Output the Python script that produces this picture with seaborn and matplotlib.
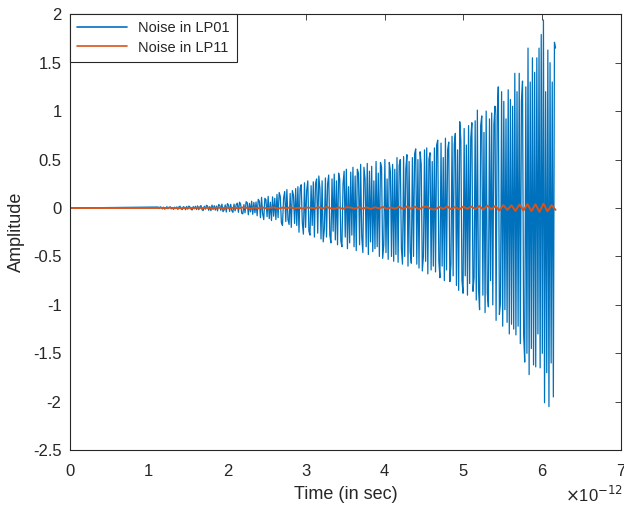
import numpy as np
import matplotlib
matplotlib.use("Agg")
import matplotlib.pyplot as plt
import seaborn as sb
from matplotlib.ticker import FixedLocator, FixedFormatter

t_start, t_end = 1.12e-12, 6.17e-12

lp01 = [
    0.01, -0.006, 0.012, 0.004, -0.01, 0.008, -0.012, -0.004, 0.014, -0.008, 0.006, 0.012, -0.01, 0.005, -0.014, 0.009, -0.006, 0.011,
    -0.015, 0.012, 0.018, -0.01, -0.016, 0.014, 0.006, -0.018, 0.016, -0.012, 0.02, 0.01, -0.014, -0.02, 0.015, -0.008, 0.018, -0.016,
    0.022, -0.018, 0.012, 0.025, -0.02, -0.026, 0.018, -0.012, 0.028, 0.02, -0.024, 0.015, -0.028, 0.03, -0.016, 0.024, -0.022, 0.02,
    -0.03, 0.035, 0.028, -0.025, 0.04, -0.038, -0.02, 0.032, -0.042, 0.045, 0.03, -0.035, 0.038, -0.028, -0.045, 0.04, -0.03, 0.036,
    0.05, -0.045, 0.06, 0.04, -0.055, -0.06, 0.035, -0.05, 0.065, 0.055, -0.07, 0.048, -0.04, 0.07, -0.065, 0.058, -0.05, 0.062,
    -0.08, 0.09, 0.07, -0.1, 0.11, -0.06, -0.12, 0.1, 0.085, -0.09, 0.12, -0.11, 0.06, -0.13, 0.115, -0.085, 0.1, -0.12,
    0.14, -0.1, 0.16, 0.12, -0.15, -0.18, 0.1, 0.17, -0.14, 0.19, -0.12, -0.17, 0.15, -0.2, 0.18, 0.13, -0.16, 0.2,
    -0.18, 0.22, -0.25, 0.2, 0.24, -0.15, -0.27, 0.26, -0.2, 0.18, 0.28, -0.24, -0.28, 0.23, -0.18, 0.27, -0.3, 0.25,
    0.3, -0.26, 0.33, 0.2, -0.32, 0.28, -0.35, -0.22, 0.31, -0.3, 0.25, 0.34, -0.28, -0.36, 0.3, -0.24, 0.35, -0.33,
    0.28, -0.38, 0.36, 0.3, -0.34, -0.4, 0.25, 0.38, -0.3, 0.4, -0.42, 0.22, -0.36, 0.37, -0.28, 0.42, -0.4, 0.33,
    -0.44, 0.4, 0.36, -0.38, 0.45, -0.3, -0.46, 0.42, 0.3, -0.4, 0.46, -0.48, 0.38, -0.35, 0.43, -0.45, 0.28, -0.42,
    0.48, -0.4, 0.36, -0.5, 0.47, 0.42, -0.52, -0.38, 0.5, -0.46, 0.3, -0.53, 0.47, 0.38, -0.5, 0.45, -0.55, 0.4,
    -0.48, 0.52, -0.56, 0.44, 0.5, -0.42, -0.58, 0.53, -0.5, 0.4, 0.55, -0.6, 0.48, -0.45, -0.57, 0.52, -0.5, 0.56,
    0.61, -0.58, 0.5, -0.62, 0.58, 0.45, -0.65, -0.5, 0.6, -0.55, 0.62, -0.68, 0.5, 0.57, -0.64, 0.48, -0.6, 0.62,
    -0.66, 0.65, 0.7, -0.55, -0.72, 0.67, -0.6, 0.52, -0.75, 0.72, -0.64, 0.6, 0.68, -0.76, -0.58, 0.74, -0.7, 0.66,
    0.77, -0.8, 0.6, -0.85, 0.89, 0.7, -0.75, -0.88, 0.82, -0.7, 0.65, -0.9, 0.85, -0.78, 0.72, 0.88, -0.86, -0.72,
    0.9, -0.95, 1.01, -0.82, -1.05, 0.85, 0.95, -0.9, 0.78, -1.08, 1.0, -0.88, -1.02, 0.92, -0.75, 0.98, -1.0, 0.86,
    1.05, -1.16, 0.95, 1.25, -1.1, -0.98, 1.2, -1.22, 1.1, -1.05, 0.92, -1.18, 1.22, -1.3, 1.12, -1.2, 1.05, -1.25,
    1.39, -1.31, 1.2, -1.22, 1.39, -1.4, 1.1, 1.31, -1.3, -1.59, 1.25, -1.5, 1.65, -1.72, 1.3, -1.45, 1.55, -1.62,
    1.4, -1.64, 1.55, -1.3, 1.65, -1.65, 1.79, -1.5, 1.94, -2.01, 1.2, -1.7, 1.63, -2.05, 1.5, -1.6, 1.3, -1.95, 1.71, 1.65,
]

lp11 = [
    0.0, 0.002, -0.001, 0.003, -0.002, 0.001, -0.003, 0.002, 0.0, -0.002, 0.003, -0.001, 0.002, -0.003, 0.001, 0.003, -0.002, 0.002, -0.001, 0.003,
    -0.004, 0.005, 0.002, -0.006, 0.004, -0.003, 0.006, -0.005, 0.003, 0.005, -0.006, 0.004, -0.002, 0.006, -0.005, 0.003, -0.006, 0.005, 0.002, -0.004,
    0.008, -0.006, 0.01, -0.004, -0.009, 0.007, -0.01, 0.009, 0.004, -0.008, 0.01, -0.007, 0.006, -0.01, 0.008, -0.005, 0.011, -0.009, 0.006, -0.008,
    0.012, -0.01, 0.015, -0.008, 0.013, -0.014, 0.009, 0.015, -0.012, -0.015, 0.011, -0.01, 0.016, -0.013, 0.01, -0.016, 0.014, -0.009, 0.015, -0.012,
    0.02, -0.018, 0.025, -0.015, 0.022, -0.026, 0.03, -0.02, 0.028, -0.03, 0.035, -0.025, 0.04, -0.032, 0.038, -0.04, 0.045, -0.035, 0.03, -0.02,
]

x_ticks = [0, 1, 2, 3, 4, 5, 6, 7]
x_labels = ["0", "1", "2", "3", "4", "5", "6", "7"]
y_ticks = [-2.5, -2, -1.5, -1, -0.5, 0, 0.5, 1, 1.5, 2]
y_labels = ["-2.5", "-2", "-1.5", "-1", "-0.5", "0", "0.5", "1", "1.5", "2"]

sb.set_style("white")
plt.rcParams['font.family'] = ['Liberation Sans', 'DejaVu Sans']
plt.rcParams['axes.unicode_minus'] = False

# time grids (signal is zero before the noise starts)
t01 = np.concatenate([[0.0], np.linspace(t_start, t_end, len(lp01))])
t11 = np.concatenate([[0.0], np.linspace(t_start, t_end, len(lp11))])
y01 = np.concatenate([[0.0], lp01])
y11 = np.concatenate([[0.0], lp11])

fig, ax = plt.subplots(figsize=(6.24, 5.07), dpi=100)
fig.subplots_adjust(left=0.112, right=0.995, top=0.972, bottom=0.112)

sb.lineplot(x=t01, y=y01, ax=ax, color="#0072BD", linewidth=0.9,
            estimator=None, sort=False, label="Noise in LP01")
sb.lineplot(x=t11, y=y11, ax=ax, color="#D95319", linewidth=1.4,
            estimator=None, sort=False, label="Noise in LP11")

ax.set_xlim(0, 7e-12)
ax.set_ylim(-2.5, 2)
ax.xaxis.set_major_locator(FixedLocator([v * 1e-12 for v in x_ticks]))
ax.xaxis.set_major_formatter(FixedFormatter(x_labels))
ax.yaxis.set_major_locator(FixedLocator(y_ticks))
ax.yaxis.set_major_formatter(FixedFormatter(y_labels))

ax.tick_params(direction="in", top=True, right=True, length=4, width=0.6,
               labelsize=12, colors="#262626")
ax.tick_params(axis="x", pad=10)
ax.tick_params(axis="y", pad=6)
for s in ax.spines.values():
    s.set_color("#262626")
    s.set_linewidth(0.8)

ax.set_xlabel("Time (in sec)", fontsize=13, labelpad=5)
ax.set_ylabel("Amplitude", fontsize=13, labelpad=6)
# exponent of the time axis, as MATLAB prints it
fig.text(0.998, 0.01, r"$\times$10$^{-12}$", ha="right", va="baseline",
         fontsize=12, color="#262626")

leg = ax.legend(loc="upper left", borderaxespad=0, fancybox=False,
                edgecolor="#262626", framealpha=1, fontsize=10.5,
                handlelength=3.4, borderpad=0.5, labelspacing=0.35)
leg.get_frame().set_linewidth(0.8)
for line in leg.get_lines():
    line.set_linewidth(1.2)

plt.savefig("out.png")
